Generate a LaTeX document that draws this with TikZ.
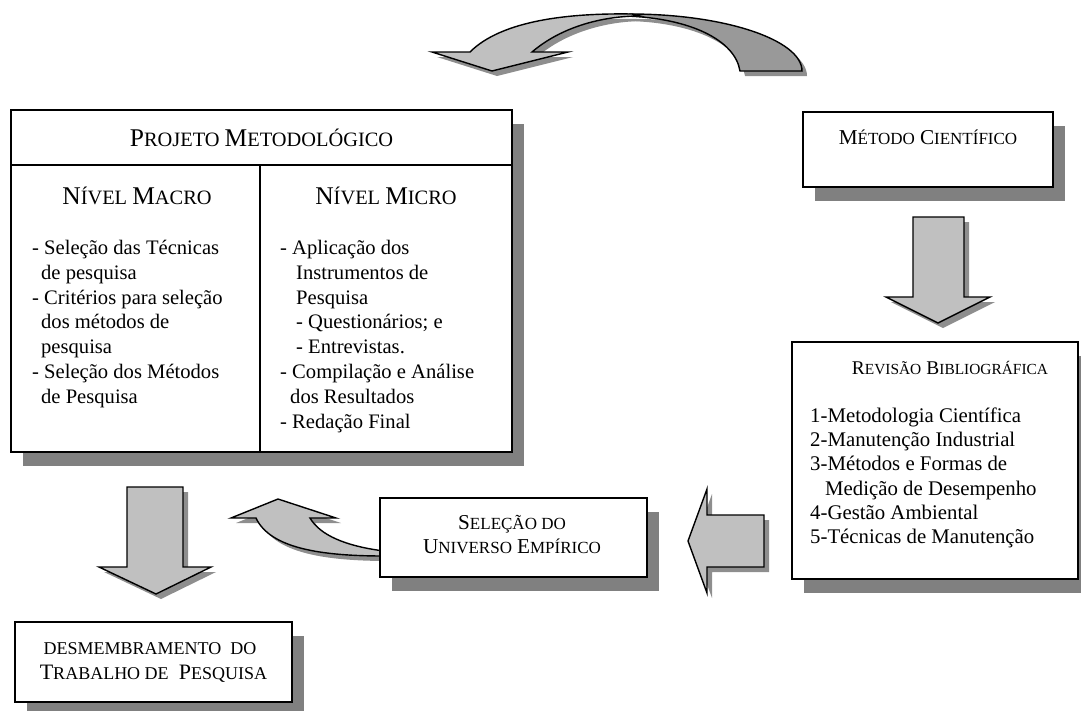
\documentclass[tikz,border=0pt]{standalone}
\usepackage{fontspec}
\setmainfont{Liberation Serif}
\usetikzlibrary{shadows}
\definecolor{boxshadow}{HTML}{808080}
\definecolor{arrfill}{HTML}{C0C0C0}
\definecolor{arrdark}{HTML}{999999}
\definecolor{arrshadow}{HTML}{8E8E8E}
\newcommand\PL[1]{{\fontsize{25.5}{28}\selectfont #1}}
\newcommand\PS[1]{{\fontsize{20.4}{24}\selectfont #1}}
\newcommand\BL[1]{{\fontsize{21.2}{24}\selectfont #1}}
\newcommand\BS[1]{{\fontsize{17}{20}\selectfont #1}}
\newcommand\RL[1]{{\fontsize{19.4}{22}\selectfont #1}}
\newcommand\RS[1]{{\fontsize{15.4}{18}\selectfont #1}}
\newcommand\DL[1]{{\fontsize{22}{24}\selectfont #1}}
\newcommand\DS[1]{{\fontsize{18}{20}\selectfont #1}}
\def\pathTopDark{(630,14) .. controls (725,14) and (802,40) .. (802,71) -- (740,71) .. controls (735,40) and (690,18) .. (625,16) -- cycle}
\def\pathTopLight{(432,52) -- (470,52) .. controls (502,20) and (570,13) .. (632,14) -- (640,16) .. controls (600,16) and (560,28) .. (532,52) -- (568,52) -- (492,71) -- cycle}
\def\pathDownL{(127,487) -- (183,487) -- (183,567) -- (211,567) -- (156,594) -- (99,567) -- (127,567) -- cycle}
\def\pathDownR{(913,217) -- (964,217) -- (964,297) -- (990,297) -- (938,323) -- (886,297) -- (913,297) -- cycle}
\def\pathLeft{(764,515) -- (764,567) -- (707,567) -- (707,593) -- (688,541) -- (707,489) -- (707,515) -- cycle}
\def\pathCurv{(231,518) -- (278,499) -- (336,518) -- (310,518) .. controls (320,535) and (345,546) .. (384,551) -- (384,556) .. controls (320,556) and (270,548) .. (256,518) -- cycle}
\begin{document}
\begin{tikzpicture}[x=1pt,y=-1pt,
  box/.style={draw=black, line width=1.8pt, fill=white, rectangle, inner sep=0pt,
    general shadow={fill=boxshadow, shadow xshift=12pt, shadow yshift=-14pt}},
  boxline/.style={draw=black, line width=1.8pt},
  blockarrow/.style={fill=arrfill, draw=black, line width=1.4pt, line join=miter},
  darkarrow/.style={fill=arrdark, draw=black, line width=1.4pt, line join=miter},
  arrowshadow/.style={fill=arrshadow, shift={(5,5)}},
  txt/.style={inner sep=0pt, font=\fontsize{20.4}{24.4}\selectfont},
  listtxt/.style={txt, align=left, anchor=north west},
  projlist/.style={listtxt, font=\fontsize{20.6}{24.9}\selectfont},
  revlist/.style={listtxt, font=\fontsize{20.8}{24.3}\selectfont}]
\useasboundingbox (0,0) rectangle (1081,710);
% arrow shadows
\fill[arrowshadow] \pathTopDark;
\fill[arrowshadow] \pathTopLight;
\fill[arrowshadow] \pathDownL;
\fill[arrowshadow] \pathDownR;
\fill[arrowshadow] \pathLeft;
\fill[arrowshadow] \pathCurv;
% arrows
\path[darkarrow] \pathTopDark;
\path[blockarrow] \pathTopLight;
\path[blockarrow] \pathDownL;
\path[blockarrow] \pathDownR;
\path[blockarrow] \pathLeft;
\path[blockarrow] \pathCurv;
% boxes
\node[box, minimum width=501pt, minimum height=342pt] (proj) at (261.5,281) {};
\draw[boxline] ([yshift=-56pt]proj.north west) -- ([yshift=-56pt]proj.north east);
\draw[boxline] ([xshift=250pt,yshift=-56pt]proj.north west) -- ([xshift=250pt]proj.south west);
\node[box, minimum width=250pt, minimum height=75pt] (metodo) at (928,149.5) {};
\node[box, minimum width=286pt, minimum height=237pt] (revisao) at (935,460.5) {};
\node[box, minimum width=267pt, minimum height=79pt] (selecao) at (513.5,537.5) {};
\node[box, minimum width=277pt, minimum height=80pt] (desm) at (153.5,662) {};
% texts
\node[txt, anchor=base] (projT) at (261.5,146.5) {\PL{P}\PS{ROJETO} \PL{M}\PS{ETODOLÓGICO}};
\node[txt, anchor=base] (macroT) at (137,204) {\PL{N}\PS{ÍVEL} \PL{M}\PS{ACRO}};
\node[txt, anchor=base] (microT) at (386,204) {\PL{N}\PS{ÍVEL} \PL{M}\PS{ICRO}};
\node[projlist] (macroL) at (32,236.6) {\strut- Seleção das Técnicas\\
\hspace*{9pt}de pesquisa\\
- Critérios para seleção\\
\hspace*{9pt}dos métodos de\\
\hspace*{9pt}pesquisa\\
- Seleção dos Métodos\\
\hspace*{9pt}de Pesquisa};
\node[projlist] (microL) at (280,236.6) {\strut- Aplicação dos\\
\hspace*{16pt}Instrumentos de\\
\hspace*{16pt}Pesquisa\\
\hspace*{16pt}- Questionários; e\\
\hspace*{16pt}- Entrevistas.\\
- Compilação e Análise\\
\hspace*{10pt}dos Resultados\\
- Redação Final};
\node[txt, anchor=base] (metodoT) at (928,144) {\BL{M}\BS{ÉTODO} \BL{C}\BS{IENTÍFICO}};
\node[txt, anchor=base] (revT) at (950,374) {\RL{R}\RS{EVISÃO} \RL{B}\RS{IBLIOGRÁFICA}};
\node[revlist] (revL) at (810,405) {\strut 1-Metodologia Científica\\
2-Manutenção Industrial\\
3-Métodos e Formas de\\
\hspace*{15pt}Medição de Desempenho\\
4-Gestão Ambiental\\
5-Técnicas de Manutenção};
\node[txt, anchor=base] (selT1) at (512,529) {\BL{S}\BS{ELEÇÃO DO}};
\node[txt, anchor=base] (selT2) at (512,553) {\BL{U}\BS{NIVERSO} \BL{E}\BS{MPÍRICO}};
\node[txt, anchor=base] (desT1) at (150,654) {\DS{DESMEMBRAMENTO\ \ DO}};
\node[txt, anchor=base] (desT2) at (153.5,679) {\DL{T}\DS{RABALHO DE}\ \ \DL{P}\DS{ESQUISA}};
\end{tikzpicture}
\end{document}
